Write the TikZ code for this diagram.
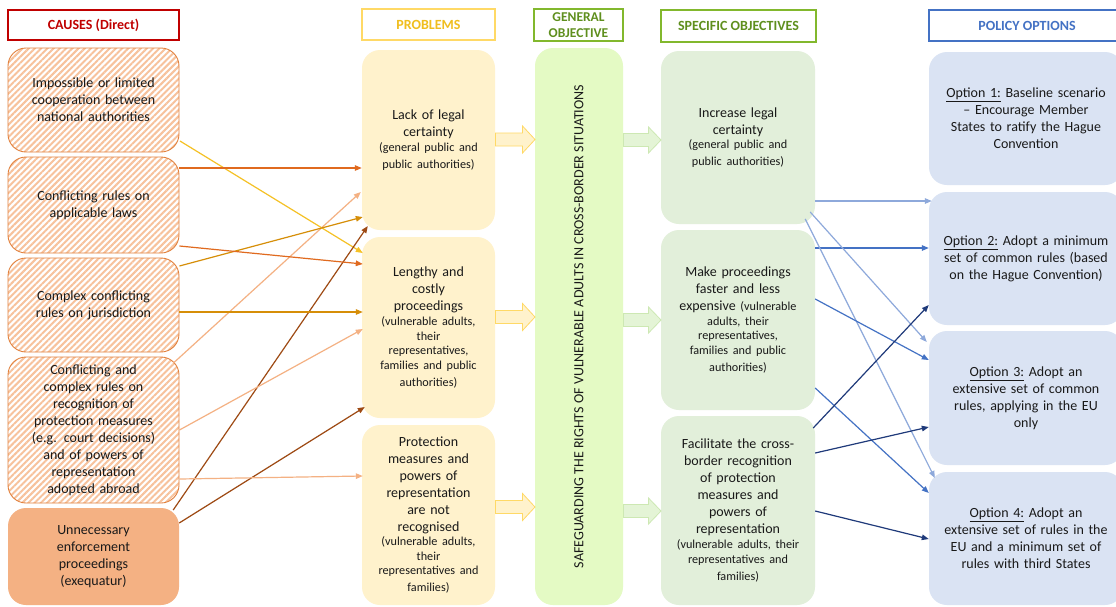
\documentclass[tikz,border=0pt]{standalone}
\usepackage{fontspec}
\setmainfont{Carlito}
\usetikzlibrary{arrows.meta,patterns.meta}
\definecolor{hatch}{HTML}{F7C29C}
\definecolor{causeborder}{HTML}{E2823F}
\definecolor{cfivefill}{HTML}{F4B183}
\definecolor{pfill}{HTML}{FFF2CC}
\definecolor{gfill}{HTML}{E4FAC4}
\definecolor{sfill}{HTML}{E2EFDA}
\definecolor{ofill}{HTML}{DAE3F3}
\definecolor{hred}{HTML}{C00000}
\definecolor{hyellowb}{HTML}{FFD966}
\definecolor{hyellowt}{HTML}{F0BE1E}
\definecolor{hgreenb}{HTML}{82B82D}
\definecolor{hgreent}{HTML}{5F8F1E}
\definecolor{hblue}{HTML}{4472C4}
\definecolor{ayellow}{HTML}{F5C125}
\definecolor{aorange}{HTML}{E06A1F}
\definecolor{agold}{HTML}{D68E08}
\definecolor{alight}{HTML}{F4B183}
\definecolor{abrown}{HTML}{9E4A14}
\definecolor{blight}{HTML}{8EA9DB}
\definecolor{bmed}{HTML}{4472C4}
\definecolor{bnavy}{HTML}{1F3A7A}
\definecolor{yarrdraw}{HTML}{FFD966}
\definecolor{garrfill}{HTML}{E4F4D6}
\definecolor{garrdraw}{HTML}{CDE8B3}
\newcommand\mainfs{\fontsize{14}{17}\selectfont}
\newcommand\smfs{\fontsize{12.2}{14.6}\selectfont}
\newcommand\hdfs{\bfseries\fontsize{14}{16}\selectfont}
\begin{document}
\begin{tikzpicture}[x=1pt,y=1pt,
  box/.style={rectangle, rounded corners=18pt, inner sep=0pt, align=center, font=\mainfs, text=black!90},
  cause/.style={box, draw=causeborder, line width=0.9pt, preaction={fill=white},
     pattern={Lines[angle=45,distance=4.4pt,line width=2pt]}, pattern color=hatch,
     minimum width=171pt, text width=167pt},
  causesolid/.style={box, fill=cfivefill, minimum width=171pt, text width=167pt},
  prob/.style={box, fill=pfill, minimum width=133pt, text width=131pt},
  spec/.style={box, fill=sfill, minimum width=154pt, text width=152pt},
  opt/.style={box, fill=ofill, minimum width=194pt, text width=190pt},
  hdr/.style={rectangle, inner sep=0pt, align=center, line width=1.6pt, font=\hdfs},
  conn/.style={line width=1.2pt, -{Triangle[length=7pt,width=5.5pt]}},
  yblk/.style={fill=pfill, draw=yarrdraw, line width=0.8pt},
  gblk/.style={fill=garrfill, draw=garrdraw, line width=0.8pt}
]
\clip (0,0) rectangle (1116,-606);
\fill[white] (0,0) rectangle (1116,-606);

% headers
\node[hdr, draw=hred, text=hred, minimum width=171pt, minimum height=30pt] (hc) at (93.5,-25) {CAUSES (Direct)};
\node[hdr, draw=hyellowb, text=hyellowt, minimum width=133pt, minimum height=31pt] (hp) at (428.5,-24.5) {PROBLEMS};
\node[hdr, draw=hgreenb, text=hgreent, minimum width=89pt, minimum height=32pt, font=\bfseries\fontsize{13.5}{15.5}\selectfont] (hg) at (578.5,-25) {GENERAL\\OBJECTIVE};
\node[hdr, draw=hgreenb, text=hgreent, minimum width=155pt, minimum height=32pt] (hs) at (738.5,-26) {SPECIFIC OBJECTIVES};
\node[hdr, draw=hblue, text=hblue, minimum width=196pt, minimum height=31pt] (ho) at (1027,-25.5) {POLICY OPTIONS};

% causes
\node[cause, minimum height=104pt] (c1) at (93.5,-100) {Impossible or limited\\cooperation between\\national authorities};
\node[cause, minimum height=96pt] (c2) at (93.5,-205) {Conflicting rules on\\applicable laws};
\node[cause, minimum height=94pt] (c3) at (93.5,-305) {Complex conflicting\\rules on jurisdiction};
\node[cause, minimum height=146pt] (c4) at (93.5,-430) {Conflicting and\\complex rules on\\recognition of\\protection measures\\(e.g. court decisions)\\and of powers of\\representation\\adopted abroad};
\node[causesolid, minimum height=97pt] (c5) at (93.5,-556.5) {Unnecessary\\enforcement\\proceedings\\(exequatur)};

% problems
\node[prob, minimum height=180pt] (p1) at (428.5,-140) {Lack of legal\\certainty\par\smfs (general public and\\public authorities)};
\node[prob, minimum height=181pt] (p2) at (428.5,-327.5) {Lengthy and\\costly\\proceedings\par\smfs (vulnerable adults,\\their\\representatives,\\families and public\\authorities)};
\node[prob, minimum height=180pt] (p3) at (428.5,-515) {Protection\\measures and\\powers of\\representation\\are not\\recognised\par\smfs (vulnerable adults,\\their\\representatives and\\families)};

% general objective
\node[box, fill=gfill, rotate=90, minimum width=557pt, minimum height=88pt, font=\fontsize{14}{16}\selectfont] (g) at (579,-326.5) {SAFEGUARDING THE RIGHTS OF VULNERABLE ADULTS IN CROSS-BORDER SITUATIONS};

% specific objectives
\node[spec, minimum height=173pt] (s1) at (738,-137.5) {Increase legal\\certainty\par\smfs (general public and\\public authorities)};
\node[spec, minimum height=180pt] (s2) at (738,-320) {Make proceedings\\faster and less\\expensive {\smfs (vulnerable}\par\smfs adults, their\\representatives,\\families and public\\authorities)};
\node[spec, minimum height=189pt] (s3) at (738,-510.5) {Facilitate the cross-\\border recognition\\of protection\\measures and\\powers of\\representation\par\smfs (vulnerable adults, their\\representatives and\\families)};

% policy options
\node[opt, minimum height=133pt] (o1) at (1026,-118.5) {\underline{Option 1:} Baseline scenario\\– Encourage Member\\States to ratify the Hague\\Convention};
\node[opt, minimum height=133pt] (o2) at (1026,-258.5) {\underline{Option 2:} Adopt a minimum\\set of common rules (based\\on the Hague Convention)};
\node[opt, minimum height=134pt] (o3) at (1026,-398) {\underline{Option 3:} Adopt an\\extensive set of common\\rules, applying in the EU\\only};
\node[opt, minimum height=133pt] (o4) at (1026,-538.5) {\underline{Option 4:} Adopt an\\extensive set of rules in the\\EU and a minimum set of\\rules with third States};

% block arrows problems -> general objective
\foreach \yy in {-139.5,-317,-507}{
  \draw[yblk, shift={(495.5,\yy)}] (0,6.5) -- (27,6.5) -- (27,13.5) -- (39.5,0) -- (27,-13.5) -- (27,-6.5) -- (0,-6.5) -- cycle;
}
% block arrows general -> specific
\foreach \yy in {-140,-320,-511}{
  \draw[gblk, shift={(623.5,\yy)}] (0,6.5) -- (25,6.5) -- (25,13) -- (37.5,0) -- (25,-13) -- (25,-6.5) -- (0,-6.5) -- cycle;
}

% causes -> problems
\draw[conn, ayellow] ([yshift=-41pt]c1.east) -- ([xshift=1pt,yshift=74.5pt]p2.west);
\draw[conn, aorange] ([yshift=37pt]c2.east) -- ([yshift=-28pt]p1.west);
\draw[conn, alight] ([xshift=-6pt,yshift=67pt]c4.east) -- ([xshift=-1pt,yshift=-52pt]p1.west);
\draw[conn, agold] ([yshift=39pt]c3.east) -- ([xshift=1pt,yshift=-77pt]p1.west);
\draw[conn, abrown] ([xshift=-6pt,yshift=46.5pt]c5.east) -- ([xshift=6pt,yshift=-86pt]p1.west);
\draw[conn, aorange] ([yshift=-41pt]c2.east) -- ([xshift=1pt,yshift=63.5pt]p2.west);
\draw[conn, agold] ([yshift=-7pt]c3.east) -- ([xshift=1pt,yshift=15.5pt]p2.west);
\draw[conn, alight] ([yshift=0pt]c4.east) -- ([xshift=1pt,yshift=-1.5pt]p2.west);
\draw[conn, abrown] ([yshift=33.5pt]c5.east) -- ([xshift=3pt,yshift=-79.5pt]p2.west);
\draw[conn, alight] ([yshift=-49pt]c4.east) -- ([xshift=1pt,yshift=39pt]p3.west);

% specific -> options
\draw[conn, blight] ([yshift=-63.5pt]s1.east) -- ([xshift=3pt,yshift=57.5pt]o2.west);
\draw[conn, bmed] ([yshift=72pt]s2.east) -- ([yshift=10.5pt]o2.west);
\draw[conn, blight] ([xshift=-5pt,yshift=-74.5pt]s1.east) -- ([xshift=-2pt,yshift=56pt]o3.west);
\draw[conn, blight] ([xshift=-10pt,yshift=-81.5pt]s1.east) -- ([xshift=6pt,yshift=60.5pt]o4.west);
\draw[conn, bmed] ([yshift=21pt]s2.east) -- ([yshift=38pt]o3.west);
\draw[conn, bmed] ([yshift=-68pt]s2.east) -- ([yshift=45.5pt]o4.west);
\draw[conn, bnavy] ([xshift=-2pt,yshift=82.5pt]s3.east) -- ([yshift=-46.5pt]o2.west);
\draw[conn, bnavy] ([yshift=57.5pt]s3.east) -- ([yshift=-29pt]o3.west);
\draw[conn, bnavy] ([yshift=-0.5pt]s3.east) -- ([yshift=-0.5pt]o4.west);
\end{tikzpicture}
\end{document}
